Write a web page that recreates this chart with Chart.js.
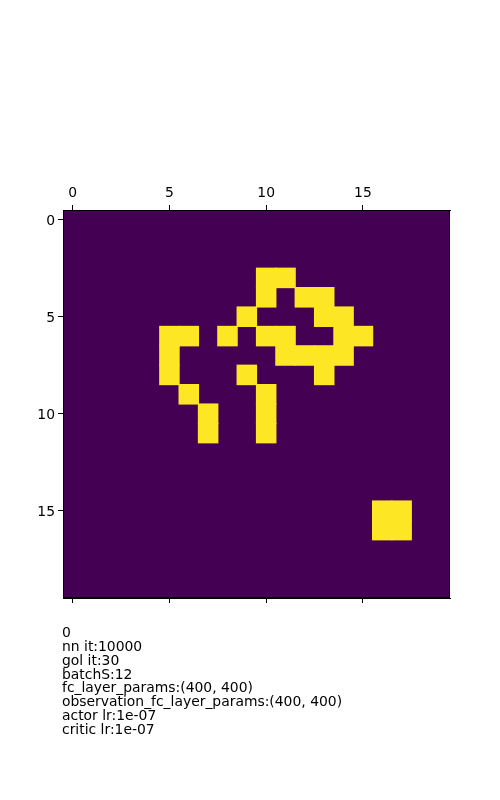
<!DOCTYPE html>
<html>
<head>
<meta charset="utf-8">
<script src="https://cdn.jsdelivr.net/npm/chart.js@4.4.1/dist/chart.umd.min.js"></script>
<style>
  html, body { margin: 0; padding: 0; background: #fff; }
  #wrap { position: relative; width: 500px; height: 800px; }
  #info {
    position: absolute; left: 62px; top: 626px;
    font-family: "DejaVu Sans", sans-serif; font-size: 13.9px; line-height: 13.86px;
    color: #000; white-space: pre;
  }
</style>
</head>
<body>
<div id="wrap">
  <canvas id="board" width="500" height="800"></canvas>
  <div id="info"></div>
</div>
<script>
// grille 20x20, cellules vivantes par ligne (indices de colonnes)
const gridSize = 20;
const aliveRows = [
  [], [], [],
  [10, 11],
  [10, 12, 13],
  [9, 13, 14],
  [5, 6, 8, 10, 11, 14, 15],
  [5, 11, 12, 13, 14],
  [5, 9, 13],
  [6, 10],
  [7, 10],
  [7, 10],
  [], [], [],
  [16, 17],
  [16, 17],
  [], [], []
];
const tickValues = [0, 5, 10, 15];
const infoLines = [
  "0",
  "nn it:10000",
  "gol it:30",
  "batchS:12",
  "fc_layer_params:(400, 400)",
  "observation_fc_layer_params:(400, 400)",
  "actor lr:1e-07",
  "critic lr:1e-07"
];

const deadColor = "#440154";
const aliveColor = "#fde725";
const font = { family: "DejaVu Sans", size: 13.9 };

document.getElementById("info").textContent = infoLines.join("\n");

const cells = [];
aliveRows.forEach((cols, row) => {
  cols.forEach(col => cells.push({ x: col, y: row }));
});

// rayon pour que le carré 'rect' couvre une cellule (léger recouvrement contre les joints)
const cellRadius = (ctx) => {
  const s = ctx.chart.scales.x;
  const half = Math.abs(s.getPixelForValue(1) - s.getPixelForValue(0)) / 2;
  return (half + 0.6) / Math.SQRT1_2;
};

const fixedTicks = (scale) => {
  scale.ticks = tickValues.map(v => ({ value: v }));
};

const boardPlugin = {
  id: "board",
  beforeDatasetsDraw(chart) {
    const { ctx, chartArea: a } = chart;
    ctx.save();
    ctx.fillStyle = deadColor;
    ctx.fillRect(a.left, a.top, a.right - a.left, a.bottom - a.top);
    ctx.restore();
  },
  afterDatasetsDraw(chart) {
    const { ctx, chartArea: a } = chart;
    ctx.save();
    ctx.strokeStyle = "#000";
    ctx.lineWidth = 1;
    ctx.strokeRect(a.left + 0.5, a.top + 0.5, a.right - a.left - 1, a.bottom - a.top - 1);
    ctx.restore();
  }
};

new Chart(document.getElementById("board"), {
  type: "scatter",
  plugins: [boardPlugin],
  data: {
    datasets: [{
      data: cells,
      backgroundColor: aliveColor,
      borderWidth: 0,
      pointStyle: "rect",
      pointRadius: cellRadius,
      pointHoverRadius: cellRadius
    }]
  },
  options: {
    responsive: false,
    animation: false,
    layout: { padding: { left: 0, right: 50, top: 0, bottom: 0 } },
    plugins: { legend: { display: false }, tooltip: { enabled: false } },
    scales: {
      x: {
        type: "linear", position: "top", min: -0.5, max: gridSize - 0.5,
        afterBuildTicks: fixedTicks,
        afterFit: (s) => { s.height = 210; },
        grid: { drawOnChartArea: false, drawTicks: true, tickLength: 5, color: "#000" },
        border: { display: true, color: "#000" },
        ticks: { color: "#000", font: font, maxRotation: 0, padding: 3 }
      },
      x2: {
        type: "linear", position: "bottom", min: -0.5, max: gridSize - 0.5,
        afterBuildTicks: fixedTicks,
        afterFit: (s) => { s.height = 202; },
        grid: { drawOnChartArea: false, drawTicks: true, tickLength: 5, color: "#000" },
        border: { display: true, color: "#000" },
        ticks: { color: "rgba(0,0,0,0)", font: font, maxRotation: 0 }
      },
      y: {
        type: "linear", position: "left", reverse: true, min: -0.5, max: gridSize - 0.5,
        afterBuildTicks: fixedTicks,
        afterFit: (s) => { s.width = 63; },
        grid: { drawOnChartArea: false, drawTicks: true, tickLength: 5, color: "#000" },
        border: { display: true, color: "#000" },
        ticks: { color: "#000", font: font, padding: 3, labelOffset: 2 }
      }
    }
  }
});
</script>
</body>
</html>
